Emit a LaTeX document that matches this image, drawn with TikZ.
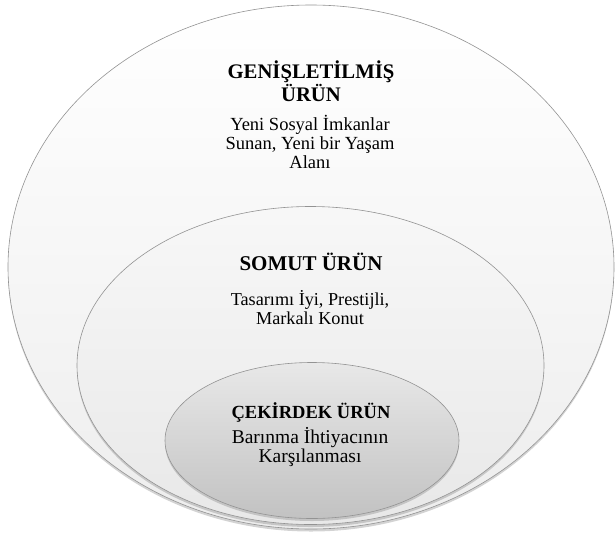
\documentclass[tikz,border=0pt]{standalone}
\usepackage{fontspec}
\setmainfont{Liberation Serif}
\usetikzlibrary{shapes.geometric,shadows}
\begin{document}
\begin{tikzpicture}[x=1pt, y=-1pt, line join=round, line cap=round,
	katman/.style={ellipse, draw=gray!85, line width=.6pt, inner sep=0pt,
		drop shadow={shadow xshift=0pt, shadow yshift=-2.5pt, opacity=.35}},
	satir/.style={anchor=base, inner sep=0pt}]
	\useasboundingbox (0,0) rectangle (615,536);
	%% Katmanlar
	\node[katman, top color=white, bottom color=black!7,
	minimum width=606pt, minimum height=524pt] (dis) at (311,267) {};
	\node[katman, top color=black!3, bottom color=black!9,
	minimum width=467pt, minimum height=318pt] (orta) at (310.5,365.5) {};
	\node[katman, top color=black!9, bottom color=black!24,
	minimum width=294pt, minimum height=156pt] (ic) at (312,440.5) {};
	%% Basliklar
	\foreach \ad/\y/\s/\yazi in {g1/78/20.7/GENİŞLETİLMİŞ, g2/101/20.7/ÜRÜN,
		s1/270/21/SOMUT ÜRÜN, c1/418/18.5/ÇEKİRDEK ÜRÜN}
	\node[satir, font=\fontsize{\s}{\s}\selectfont\bfseries] (\ad) at (311,\y) {\yazi};
	%% Aciklamalar
	\foreach \ad/\y/\s/\yazi in {g3/130/18.5/Yeni Sosyal İmkanlar,
		g4/149/18.5/{Sunan, Yeni bir Yaşam}, g5/168/18.5/Alanı,
		s2/305/18.2/{Tasarımı İyi, Prestijli,}, s3/324/18.2/Markalı Konut,
		c2/443/19.5/Barınma İhtiyacının, c3/462/19.5/Karşılanması}
	\node[satir, font=\fontsize{\s}{\s}\selectfont] (\ad) at (310,\y) {\yazi};
\end{tikzpicture}
\end{document}
